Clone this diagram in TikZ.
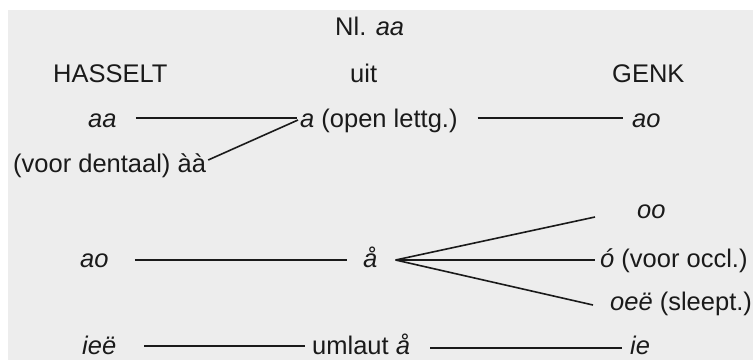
\documentclass[tikz,border=0pt]{standalone}
\usepackage{fontspec}
\setmainfont{Liberation Sans}
\usetikzlibrary{calc}
\definecolor{paper}{HTML}{EDEDED}
\definecolor{ink}{HTML}{1A1A1A}
\tikzset{
  lbl/.style={inner sep=0pt, anchor=base west, text=ink, font=\fontsize{25.5}{30}\selectfont},
  link/.style={draw=ink, line width=1.6pt}
}

\begin{document}
\begin{tikzpicture}[x=1pt,y=-1pt]
    \useasboundingbox (0,0) rectangle (753,360);
    \fill[paper] (8,10) rectangle (753,360);
    % headings
    \node[lbl] (nl) at (335,35) {Nl. \textit{aa}};
    \node[lbl] (hasselt) at (53,82) {HASSELT};
    \node[lbl] (uit) at (350,82) {uit};
    \node[lbl] (genk) at (612,82) {GENK};
    % first group
    \node[lbl] (haa) at (88,127) {\textit{aa}};
    \node[lbl] (aopen) at (300,127) {\textit{a} (open lettg.)};
    \node[lbl] (gao) at (632,127) {\textit{ao}};
    \node[lbl] (dent) at (13,172) {(voor dentaal) àà};
    % second group
    \node[lbl] (goo) at (637,218) {\textit{oo}};
    \node[lbl] (hao) at (80,267) {\textit{ao}};
    \node[lbl] (aring) at (363,267) {\textit{å}};
    \node[lbl] (gocc) at (600,267) {\textit{ó} (voor occl.)};
    \node[lbl] (gsl) at (610,310) {\textit{oeë} (sleept.)};
    % third group
    \node[lbl] (hie) at (82,354) {\textit{ieë}};
    \node[lbl] (uml) at (312,354) {umlaut \textit{å}};
    \node[lbl] (gie) at (630,354) {\textit{ie}};

    \draw[link] ($(haa.base east)+(19,-9)$) -- ($(aopen.base west)+(-3,-9)$);
    \draw[link] ($(dent.base east)+(2,-12)$) -- ($(aopen.base west)+(-2,-7)$);
    \draw[link] ($(aopen.base east)+(20,-9)$) -- ($(gao.base west)+(-9,-9)$);
    \draw[link] ($(hao.base east)+(26,-7)$) -- ($(aring.base west)+(-16,-7)$);
    \draw[link] ($(aring.base east)+(18,-7)$) -- ($(goo.base west)+(-42,-1)$);
    \draw[link] ($(aring.base east)+(18,-7)$) -- ($(gocc.base west)+(-5,-7)$);
    \draw[link] ($(aring.base east)+(18,-7)$) -- ($(gsl.base west)+(-17,-5)$);
    \draw[link] ($(hie.base east)+(28,-8)$) -- ($(uml.base west)+(-7,-8)$);
    \draw[link] ($(uml.base east)+(20,-6)$) -- ($(gie.base west)+(-8,-6)$);
\end{tikzpicture}
\end{document}
